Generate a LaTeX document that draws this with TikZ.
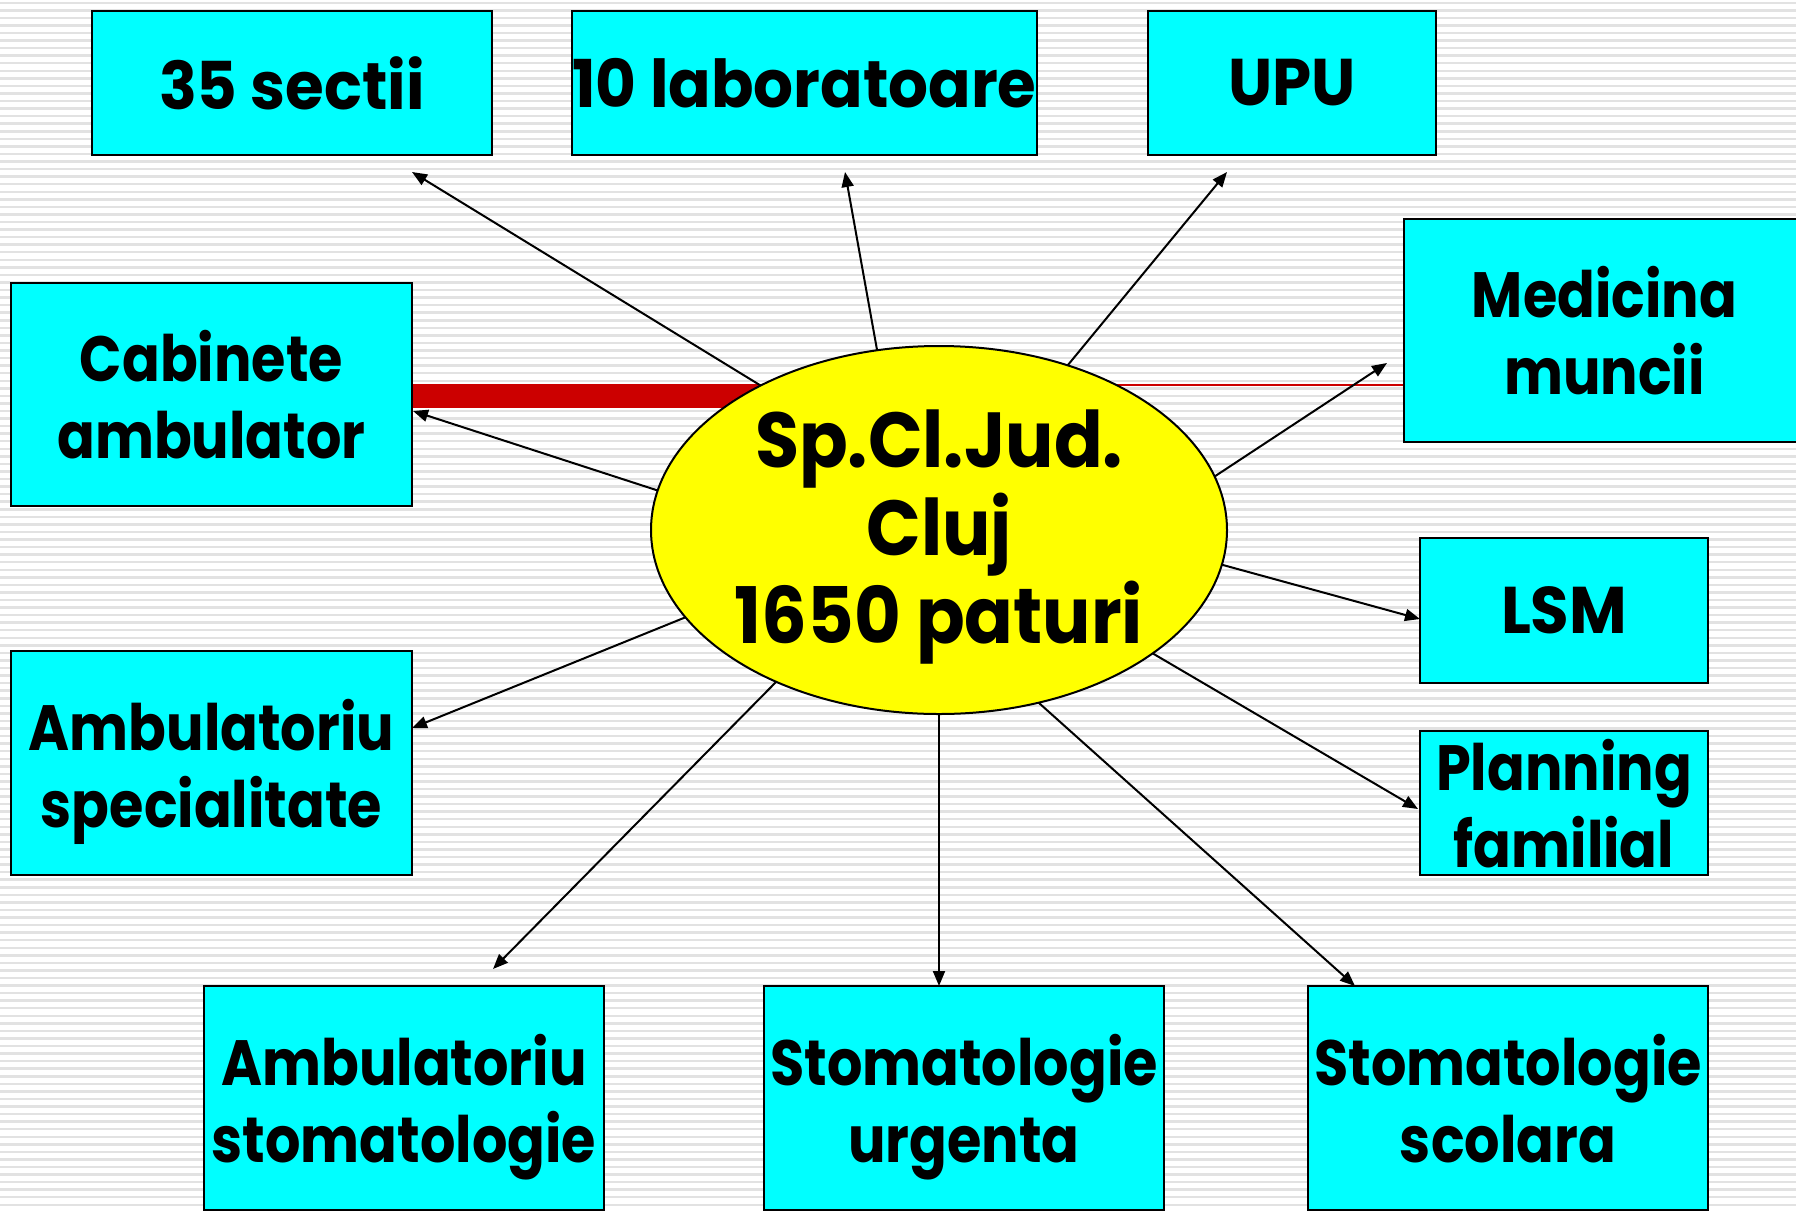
\documentclass[tikz,border=0pt]{standalone}
\usepackage{fontspec}
\setmainfont{Poppins}[FakeStretch=0.87]
\newfontfamily\ellfont{Poppins}[FakeStretch=0.92]
\newfontfamily\widefont{Poppins}[FakeStretch=0.95]
\usetikzlibrary{arrows.meta,shapes.geometric}
\definecolor{boxcyan}{HTML}{00FFFF}
\definecolor{ellyellow}{HTML}{FFFF00}
\definecolor{barred}{HTML}{CC0000}
\definecolor{stripegray}{HTML}{E2E2E2}
\begin{document}
\begin{tikzpicture}[x=1pt,y=-1pt,
  box/.style={draw=black, line width=2.5pt, fill=boxcyan, rectangle, inner sep=0pt,
    align=center, font=\fontsize{64}{77}\selectfont\bfseries},
  onebox/.style={box, font=\widefont\fontsize{66}{77}\selectfont\bfseries},
  conn/.style={line width=2pt, -{Triangle[length=15pt,width=12pt]}},
]
\useasboundingbox (0,0) rectangle (1796,1210);
\fill[white] (0,0) rectangle (1796,1210);
\foreach \i in {0,...,160} \fill[stripegray] (0,{\i*7.56+1.5}) rectangle (1796,{\i*7.56+4});

% boxes
\node[onebox, minimum width=400pt, minimum height=144pt] (b1) at (292,83) {35 sectii};
\node[onebox, minimum width=465pt, minimum height=144pt] (b2) at (804.5,83) {10 laboratoare};
\node[onebox, minimum width=288pt, minimum height=144pt] (b3) at (1292,83) {UPU};
\node[box, minimum width=401pt, minimum height=223pt] (b4) at (1604.5,330.5) {Medicina\\ \smash{muncii}};
\node[box, minimum width=401pt, minimum height=223pt] (b5) at (211.5,394.5) {Cabinete\\\smash{ambulator}};
\node[onebox, minimum width=288pt, minimum height=145pt] (b6) at (1564,610.5) {LSM};
\node[box, minimum width=288pt, minimum height=144pt] (b7) at (1564,803) {Planning\\\smash{familial}};
\node[box, minimum width=401pt, minimum height=224pt] (b8) at (211.5,763) {Ambulatoriu\\\smash{specialitate}};
\node[box, minimum width=400pt, minimum height=224pt] (b9) at (404,1098) {Ambulatoriu\\\smash{stomatologie}};
\node[box, minimum width=400pt, minimum height=224pt] (b10) at (964,1098) {Stomatologie\\\smash{urgenta}};
\node[box, minimum width=400pt, minimum height=224pt] (b11) at (1508,1098) {Stomatologie\\\smash{scolara}};

% ellipse shape (for anchors)
\path (939,530) node[ellipse, minimum width=576pt, minimum height=368pt, inner sep=0pt] (c) {};

% red connectors behind the ellipse
\coordinate (rb) at (780,396);
\coordinate (rt) at (900,385);
\draw[barred, line width=24pt] (b5.east |- rb) -- (rb);
\draw[barred, line width=1.5pt] (rt) -- (b4.west |- rt);

\node[ellipse, draw=black, line width=2pt, fill=ellyellow, minimum width=576pt, minimum height=368pt, inner sep=0pt] at (c) {};
\node[align=center, font=\ellfont\fontsize{78}{88}\selectfont\bfseries] (ct) at (939,537) {Sp.Cl.Jud.\\Cluj\\1650 paturi};

% free arrow ends
\coordinate (e1) at (412,172);
\coordinate (e2) at (845,172);
\coordinate (e3) at (1227,172);
\coordinate (e4) at (1387,363);
\coordinate (e5) at (413,411);
\coordinate (e6) at (1420,619);
\coordinate (e7) at (1418,809);
\coordinate (e8) at (412,728);
\coordinate (e9) at (493,969);
\coordinate (e10) at (939,986);
\coordinate (e11) at (1355,986);

\draw[conn] (c.141.5) -- (e1);
\draw[conn] (c.109) -- (e2);
\draw[conn] (c.52.5) -- (e3);
\draw[conn] (c.11.8) -- (e4);
\draw[conn] (c.172.2) -- (e5);
\draw[conn] (c.-7.9) -- (e6);
\draw[conn] (c.-30.4) -- (e7);
\draw[conn] (c.199.3) -- (e8);
\draw[conn] (c.223.9) -- (e9);
\draw[conn] (c.270) -- (e10);
\draw[conn] (c.300.1) -- (e11);
\end{tikzpicture}
\end{document}
